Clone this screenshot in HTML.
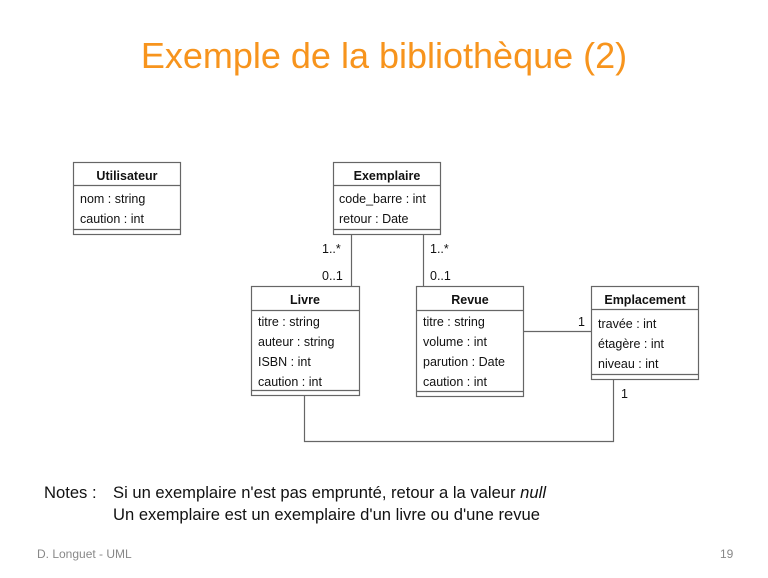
<!DOCTYPE html>
<html><head><meta charset="utf-8"><style>
html,body{margin:0;padding:0;background:#fff;}
body{width:768px;height:578px;overflow:hidden;position:relative;font-family:"Liberation Sans",sans-serif;}
</style></head><body>
<svg width="768" height="578" xmlns="http://www.w3.org/2000/svg" style="position:absolute;left:0;top:0">
<text x="384" y="68" text-anchor="middle" font-family="Liberation Sans, sans-serif" font-size="36" fill="#f7941d">Exemple de la bibliothèque (2)</text>
<g fill="none" stroke="#666" stroke-width="1.2">
<rect x="73.5" y="162.5" width="107" height="72"/><line x1="73" y1="185.5" x2="181" y2="185.5"/><line x1="73" y1="229.5" x2="181" y2="229.5"/>
<rect x="333.5" y="162.5" width="107" height="72"/><line x1="333" y1="185.5" x2="441" y2="185.5"/><line x1="333" y1="229.5" x2="441" y2="229.5"/>
<rect x="251.5" y="286.5" width="108" height="109"/><line x1="251" y1="310.5" x2="360" y2="310.5"/><line x1="251" y1="390.5" x2="360" y2="390.5"/>
<rect x="416.5" y="286.5" width="107" height="110"/><line x1="416" y1="310.5" x2="524" y2="310.5"/><line x1="416" y1="391.5" x2="524" y2="391.5"/>
<rect x="591.5" y="286.5" width="107" height="93"/><line x1="591" y1="309.5" x2="699" y2="309.5"/><line x1="591" y1="374.5" x2="699" y2="374.5"/>
<line x1="351.5" y1="235" x2="351.5" y2="286"/>
<line x1="423.5" y1="235" x2="423.5" y2="286"/>
<line x1="524" y1="331.5" x2="591" y2="331.5"/>
<polyline points="304.5,396 304.5,441.5 613.5,441.5 613.5,380"/>
</g>
<g font-family="Liberation Sans, sans-serif" font-size="12.5" fill="#111">
<text x="127" y="180" text-anchor="middle" font-weight="bold">Utilisateur</text>
<text x="80" y="203">nom : string</text><text x="80" y="223">caution : int</text>
<text x="387" y="180" text-anchor="middle" font-weight="bold">Exemplaire</text>
<text x="339" y="203">code_barre : int</text><text x="339" y="223">retour : Date</text>
<text x="305" y="304" text-anchor="middle" font-weight="bold">Livre</text>
<text x="258" y="326">titre : string</text><text x="258" y="346">auteur : string</text><text x="258" y="366">ISBN : int</text><text x="258" y="386">caution : int</text>
<text x="470" y="304" text-anchor="middle" font-weight="bold">Revue</text>
<text x="423" y="326">titre : string</text><text x="423" y="346">volume : int</text><text x="423" y="366">parution : Date</text><text x="423" y="386">caution : int</text>
<text x="645" y="304" text-anchor="middle" font-weight="bold">Emplacement</text>
<text x="598" y="328">travée : int</text><text x="598" y="348">étagère : int</text><text x="598" y="368">niveau : int</text>
<text x="322" y="253">1..*</text><text x="322" y="280">0..1</text>
<text x="430" y="253">1..*</text><text x="430" y="280">0..1</text>
<text x="578" y="326">1</text><text x="621" y="398">1</text>
</g>
<g font-family="Liberation Sans, sans-serif" font-size="16.6" fill="#111">
<text x="44" y="498">Notes :</text>
<text x="113" y="498">Si un exemplaire n'est pas emprunté, retour a la valeur <tspan font-style="italic">null</tspan></text>
<text x="113" y="520">Un exemplaire est un exemplaire d'un livre ou d'une revue</text>
</g>
<text x="37" y="558" font-family="Liberation Sans, sans-serif" font-size="12" fill="#888">D. Longuet - UML</text>
<text x="720" y="558" font-family="Liberation Sans, sans-serif" font-size="12" fill="#888">19</text>
</svg>
</body></html>
